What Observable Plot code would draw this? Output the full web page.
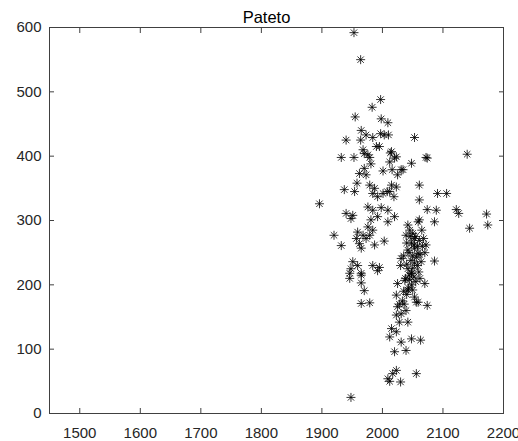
<!DOCTYPE html>
<html>
<head>
<meta charset="utf-8">
<script src="https://cdn.jsdelivr.net/npm/d3@7"></script>
<script src="https://cdn.jsdelivr.net/npm/@observablehq/plot@0.6"></script>
<style>
  body { margin: 0; background: #fff; }
  #chart svg { font-family: "Liberation Sans", Arial, sans-serif; }
</style>
</head>
<body>
<div id="chart"></div>
<script>
const title = "Pateto";
const xTicks = [1500, 1600, 1700, 1800, 1900, 2000, 2100, 2200];
const yTicks = [0, 100, 200, 300, 400, 500, 600];
const xDomain = [1450, 2200];
const yDomain = [0, 600];

const xs = [
  1953,1964,1997,1983,1955,1998,2009,1965,1973,1997,2003,2010,1984,1940,1964,2053,1990,1995,1968,1976,
  2015,2023,1932,1953,1979,1970,2013,2020,1981,2012,2048,1970,1962,1973,2001,2016,2031,2025,2072,2140,
  2034,2074,1958,1979,1987,2015,2023,2012,2019,1937,1954,1984,1992,2001,2008,2061,2061,2091,2106,1896,
  1976,1984,1998,2009,2020,1940,1951,1948,1981,1992,2009,2042,2061,2074,2089,2122,2126,2172,2174,2144,
  2086,2059,1976,1984,1979,1959,1968,1957,1973,1920,1932,2003,1965,1962,1987,2039,2053,2061,2042,2053,
  2059,2031,1951,1959,1948,1965,1984,1995,2042,2048,2045,1946,1965,1946,1965,1970,1965,1979,1992,2025,
  2037,2048,2042,2053,2059,2023,2025,2031,2023,2039,2028,2042,2015,2023,2012,2031,2048,2020,2039,2023,
  2017,2009,2012,2030,1948,2056,2070,2056,2074,2063,2086,
  2045,2050,2055,2048,2052,2058,2044,2050,2056,2062,2047,2053,2040,2058,2064,2050,2044,2052,2060,2038,
  2048,2055,2043,2035,2040,2050,2066,2068,2065,2030,2035,2040,2046,2070,2072,2062,2033,2036,2028
];
const ys = [
  592,550,488,476,461,458,452,440,433,435,433,433,429,425,425,429,415,415,410,402,
  407,399,398,398,398,404,405,397,388,391,389,381,373,371,377,379,379,371,398,403,
  379,397,358,355,350,355,352,345,337,348,345,342,337,342,345,355,332,342,342,326,
  321,316,320,316,306,311,308,303,301,306,298,293,301,317,316,317,311,310,293,288,
  298,298,290,285,277,282,277,272,272,277,261,268,257,264,262,277,272,269,254,257,
  249,241,236,230,225,218,230,227,225,218,208,218,215,210,203,191,171,172,222,202,
  207,218,192,181,173,184,166,155,153,160,142,142,132,127,119,111,116,96,98,67,
  62,54,50,49,25,62,202,173,168,114,237,
  285,280,275,265,262,260,250,245,243,247,238,234,232,230,236,226,215,212,220,210,
  200,205,195,190,185,192,260,272,285,230,245,265,275,250,262,210,175,170,170
];
const points = xs.map((x, i) => ({x, y: ys[i]}));

const asterisk = {
  draw(ctx, size) {
    const r = Math.sqrt(size / Math.PI);
    const d = r * Math.SQRT1_2;
    ctx.moveTo(-r, 0); ctx.lineTo(r, 0);
    ctx.moveTo(0, -r); ctx.lineTo(0, r);
    ctx.moveTo(-d, -d); ctx.lineTo(d, d);
    ctx.moveTo(-d, d); ctx.lineTo(d, -d);
  }
};

const axisColor = "#404040";
const chart = Plot.plot({
  width: 518,
  height: 441,
  marginLeft: 49,
  marginRight: 15,
  marginTop: 27,
  marginBottom: 28,
  style: {fontSize: "15px", fontFamily: "'Liberation Sans', Arial, sans-serif", color: "#262626", overflow: "visible"},
  x: {domain: xDomain},
  y: {domain: yDomain},
  marks: [
    Plot.frame({stroke: axisColor}),
    Plot.axisX({ticks: xTicks, tickSize: -5, tickPadding: 19, label: null, tickFormat: d => String(d), stroke: axisColor, fill: "#262626"}),
    Plot.axisX({anchor: "top", ticks: xTicks, tickSize: -5, label: null, tickFormat: () => "", stroke: axisColor}),
    Plot.axisY({ticks: yTicks, tickSize: -5, tickPadding: 13, label: null, tickFormat: d => String(d), stroke: axisColor, fill: "#262626"}),
    Plot.axisY({anchor: "right", ticks: yTicks, tickSize: -5, label: null, tickFormat: () => "", stroke: axisColor}),
    Plot.dot(points, {x: "x", y: "y", symbol: asterisk, r: 4.5, fill: "none", stroke: "black", strokeWidth: 0.8}),
    Plot.text([title], {frameAnchor: "top", text: d => d, lineAnchor: "bottom", dy: -5, dx: -10, fontSize: 16.5, fill: "#000"})
  ]
});
document.getElementById("chart").appendChild(chart);
</script>
</body>
</html>
